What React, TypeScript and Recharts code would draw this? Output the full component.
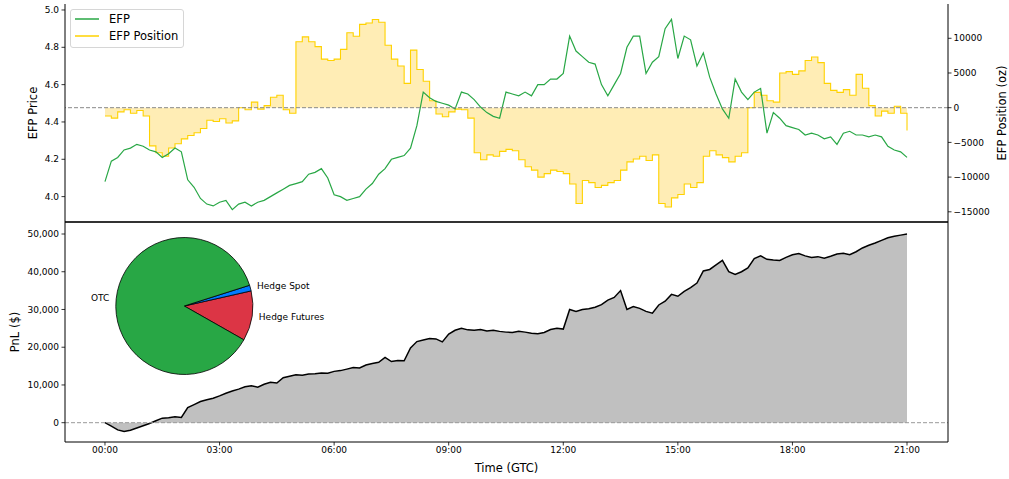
import React from "react"
import { ComposedChart, Line, Area, XAxis, YAxis, ReferenceLine, Legend, PieChart, Pie, Cell } from "recharts"

// time of each sample, minutes after 00:00 GTC
const minutes = [
    0, 10, 20, 30, 40, 50, 60, 70, 80, 90,
    100, 110, 120, 130, 140, 150, 160, 170, 180, 190,
    200, 210, 220, 230, 240, 250, 260, 270, 280, 290,
    300, 310, 320, 330, 340, 350, 360, 370, 380, 390,
    400, 410, 420, 430, 440, 450, 460, 470, 480, 490,
    500, 510, 520, 530, 540, 550, 560, 570, 580, 590,
    600, 610, 620, 630, 640, 650, 660, 670, 680, 690,
    700, 710, 720, 730, 740, 750, 760, 770, 780, 790,
    800, 810, 820, 830, 840, 850, 860, 870, 880, 890,
    900, 910, 920, 930, 940, 950, 960, 970, 980, 990,
    1000, 1010, 1020, 1030, 1040, 1050, 1060, 1070, 1080, 1090,
    1100, 1110, 1120, 1130, 1140, 1150, 1160, 1170, 1180, 1190,
    1200, 1210, 1220, 1230, 1240, 1250, 1260,
]

const efpPrice = [
    4.08, 4.19, 4.21, 4.25, 4.26, 4.28, 4.27, 4.25, 4.24, 4.21,
    4.23, 4.26, 4.24, 4.09, 4.05, 3.99, 3.96, 3.95, 3.97, 3.98,
    3.93, 3.96, 3.97, 3.95, 3.97, 3.98, 4.0, 4.02, 4.04, 4.06,
    4.07, 4.08, 4.12, 4.13, 4.15, 4.1, 4.01, 4.0, 3.98, 3.99,
    4.0, 4.04, 4.07, 4.12, 4.15, 4.2, 4.21, 4.22, 4.26, 4.38,
    4.56, 4.53, 4.51, 4.5, 4.49, 4.47, 4.56, 4.55, 4.52, 4.48,
    4.45, 4.43, 4.42, 4.56, 4.55, 4.54, 4.56, 4.54, 4.6, 4.6,
    4.63, 4.63, 4.66, 4.86, 4.78, 4.75, 4.72, 4.71, 4.6, 4.54,
    4.6, 4.66, 4.8, 4.86, 4.86, 4.66, 4.72, 4.75, 4.9, 4.95,
    4.74, 4.86, 4.84, 4.7, 4.77, 4.64, 4.55, 4.47, 4.42, 4.63,
    4.56, 4.52, 4.56, 4.58, 4.34, 4.45, 4.42, 4.38, 4.37, 4.36,
    4.33, 4.34, 4.33, 4.31, 4.32, 4.28, 4.34, 4.35, 4.33, 4.33,
    4.32, 4.33, 4.32, 4.27, 4.25, 4.24, 4.21,
]

const efpPosition = [
    -1200, -1500, -600, -300, -800, -400, -1200, -5500, -6500, -7000,
    -5800, -5200, -4500, -4000, -3600, -3000, -1800, -2000, -1600, -2200,
    -1900, 0, -300, 800, -200, 300, 1500, 1800, -300, -800,
    9500, 10200, 9500, 8800, 7000, 6800, 7000, 8400, 10800, 10300,
    12000, 12200, 12700, 12300, 9000, 7000, 6000, 3500, 8300, 5500,
    3800, 1000, -900, -1300, -600, -200, -300, -1500, -6500, -7500,
    -6800, -7000, -6300, -6000, -6200, -7500, -8500, -9000, -10000, -9500,
    -9000, -9200, -9500, -11000, -13800, -10500, -10800, -11500, -11200, -10800,
    -10500, -9000, -7800, -7400, -7000, -7600, -6800, -13800, -14300, -13000,
    -12500, -11000, -11500, -10800, -7000, -6200, -6800, -7200, -7800, -7000,
    -6500, 0, 2200, 1800, 1000, 800, 5000, 5200, 4800, 5300,
    6800, 7300, 6500, 3500, 2500, 2200, 2600, 1800, 4800, 2800,
    300, -1200, -500, -800, 200, -800, -3300,
]

const pnl = [
    0, -900, -1900, -2300, -2000, -1400, -800, -200, 500, 1200,
    1300, 1600, 1400, 4000, 4800, 5600, 6100, 6500, 7100, 7800,
    8400, 8900, 9500, 9800, 9400, 10200, 10700, 10500, 11900, 12300,
    12700, 12600, 12900, 13000, 13200, 13100, 13600, 13800, 14200, 14600,
    14500, 15300, 15700, 16000, 17300, 16200, 16500, 16400, 19800, 21500,
    21900, 22300, 22200, 21400, 23500, 24500, 25000, 24600, 24500, 24700,
    24300, 24500, 24200, 24000, 23900, 24200, 24000, 23700, 23600, 23900,
    24700, 25000, 24800, 30000, 29500, 30000, 30200, 30600, 31300, 32500,
    33200, 35000, 30000, 30800, 30300, 29500, 29000, 31200, 32200, 34000,
    33500, 34800, 35800, 37000, 40200, 40600, 41800, 43000, 40000, 39300,
    40000, 41000, 43500, 44200, 43300, 43100, 43000, 43800, 44500, 44800,
    44200, 43800, 44000, 43600, 44100, 44700, 44900, 44500, 45300, 46300,
    47000, 47600, 48300, 49000, 49400, 49700, 50000,
]

const hourTicks = [0, 180, 360, 540, 720, 900, 1080, 1260]
const hourLabels = ["00:00", "03:00", "06:00", "09:00", "12:00", "15:00", "18:00", "21:00"]
const priceTicks = [4.0, 4.2, 4.4, 4.6, 4.8, 5.0]
const positionTicks = [-15000, -10000, -5000, 0, 5000, 10000]
const pnlTicks = [0, 10000, 20000, 30000, 40000, 50000]

const pieNames = ["Hedge Futures", "Hedge Spot", "OTC"]
const pieValues = [5880, 680, 43440]

const GREEN = "#28a745"
const YELLOW = "#ffd200"
const FONT = "'DejaVu Sans', sans-serif"
const pieColors = ["#dc3545", "#007bff", GREEN]

const rows = minutes.map((m, i) => ({ m, efp: efpPrice[i], pos: efpPosition[i], pnl: pnl[i] }))
const pieData = pieNames.map((name, i) => ({ name, value: pieValues[i] }))

const X_DOMAIN = [-62.8, 1324.4]
const tickStyle = { fontSize: 9, fill: "#000", fontFamily: FONT }
const axisLine = { stroke: "#000", strokeWidth: 1 }
const tickLine = { stroke: "#000", strokeWidth: 0.8 }

const fmtHour = (v: number) => hourLabels[hourTicks.indexOf(v)] ?? ""
const fmtMinus = (v: number) => (v < 0 ? "\u2212" + Math.abs(v) : String(v))

function verticalTitle(text: string, x: number) {
    return (props: any) => {
        const vb = props.viewBox
        const y = vb.y + vb.height / 2
        return (
            <text x={x} y={y} transform={`rotate(-90 ${x} ${y})`} textAnchor="middle"
                dominantBaseline="central" fontSize={11.5} fontFamily={FONT} fill="#000">
                {text}
            </text>
        )
    }
}

function timeTitle(props: any) {
    const vb = props.viewBox
    return (
        <text x={vb.x + vb.width / 2} y={255.5} textAnchor="middle" dominantBaseline="central"
            fontSize={11.5} fontFamily={FONT} fill="#000">
            Time (GTC)
        </text>
    )
}

const RAD = Math.PI / 180
function pieLabel(p: any) {
    const r = p.outerRadius * 1.1
    const x = p.cx + r * Math.cos(-p.midAngle * RAD)
    const y = p.cy + r * Math.sin(-p.midAngle * RAD)
    return (
        <text x={x} y={y} textAnchor={x > p.cx ? "start" : "end"} dominantBaseline="central"
            fontSize={9} fontFamily={FONT} fill="#000">
            {p.name}
        </text>
    )
}

const legendItems = [
    { label: "EFP", color: GREEN },
    { label: "EFP Position", color: YELLOW },
]

function renderLegend() {
    return (
        <div style={{
            boxSizing: "border-box", width: 114, height: 39, border: "1px solid #d6d6d6",
            borderRadius: 3, background: "rgba(255,255,255,0.8)", padding: "1px 0 0 4px",
            fontFamily: FONT, fontSize: 11.5, color: "#000",
        }}>
            {legendItems.map(it => (
                <div key={it.label} style={{ display: "flex", alignItems: "center", height: 16.5 }}>
                    <svg width={24} height={6} style={{ marginRight: 10, flexShrink: 0, display: "block" }}>
                        <line x1={0} y1={3} x2={24} y2={3} stroke={it.color} strokeWidth={1.5} />
                    </svg>
                    <span style={{ lineHeight: "16.5px", whiteSpace: "nowrap" }}>{it.label}</span>
                </div>
            ))}
        </div>
    )
}

export default function App() {
    return (
        <div style={{ position: "absolute", left: 0, top: 0, width: 1009, height: 479, background: "#fff", fontFamily: FONT }}>
            <div style={{ position: "absolute", left: 0, top: 0 }}>
                <ComposedChart width={1009} height={224} data={rows} margin={{ top: 4, right: 0, bottom: 0, left: 0 }}>
                    <XAxis xAxisId="x" dataKey="m" type="number" domain={X_DOMAIN} allowDataOverflow
                        height={2} tick={false} tickLine={false} axisLine={{ stroke: "#333", strokeWidth: 2 }} />
                    <XAxis xAxisId="xt" orientation="top" dataKey="m" type="number" domain={X_DOMAIN} allowDataOverflow
                        height={0} tick={false} tickLine={false} axisLine={axisLine} />
                    <YAxis yAxisId="left" width={65} type="number" domain={[3.864, 5.032]} allowDataOverflow
                        ticks={priceTicks} tickFormatter={(v: number) => v.toFixed(1)} tick={tickStyle}
                        tickSize={3.5} tickMargin={2.5} tickLine={tickLine} axisLine={axisLine}
                        label={verticalTitle("EFP Price", 33)} />
                    <YAxis yAxisId="right" orientation="right" width={61} type="number" domain={[-16470, 14940]} allowDataOverflow
                        ticks={positionTicks} tickFormatter={fmtMinus} tick={tickStyle}
                        tickSize={3.5} tickMargin={2} tickLine={tickLine} axisLine={axisLine}
                        label={verticalTitle("EFP Position (oz)", 1002)} />
                    <Line xAxisId="x" yAxisId="left" dataKey="efp" type="linear" stroke={GREEN} strokeWidth={1.2}
                        dot={false} activeDot={false} isAnimationActive={false} />
                    <Area xAxisId="x" yAxisId="right" dataKey="pos" type="stepAfter" baseValue={0}
                        stroke={YELLOW} strokeWidth={1.1} fill="#ffc61a" fillOpacity={0.32}
                        dot={false} activeDot={false} isAnimationActive={false} />
                    <ReferenceLine xAxisId="x" yAxisId="right" y={0} stroke="#888" strokeDasharray="4 2" strokeWidth={1} />
                    <Legend layout="vertical" align="center" verticalAlign="middle"
                        wrapperStyle={{ left: 70, top: 9, width: 114, height: 39 }} content={renderLegend} />
                </ComposedChart>
            </div>

            <div style={{ position: "absolute", left: 0, top: 212 }}>
                <ComposedChart width={1009} height={267} data={rows} margin={{ top: 10, right: 0, bottom: 0, left: 0 }}>
                    <XAxis xAxisId="x" dataKey="m" type="number" domain={X_DOMAIN} allowDataOverflow
                        height={37} ticks={hourTicks} tickFormatter={fmtHour} tick={tickStyle}
                        tickSize={3.5} tickMargin={1} tickLine={tickLine} axisLine={axisLine}
                        label={timeTitle} />
                    <YAxis yAxisId="left" width={65} type="number" domain={[-5114, 53180]} allowDataOverflow
                        ticks={pnlTicks} tickFormatter={(v: number) => v.toLocaleString("en-US")} tick={tickStyle}
                        tickSize={3.5} tickMargin={2.5} tickLine={tickLine} axisLine={axisLine}
                        label={verticalTitle("PnL ($)", 15)} />
                    <YAxis yAxisId="r" orientation="right" width={61} type="number" domain={[-5114, 53180]}
                        tick={false} tickLine={false} axisLine={axisLine} />
                    <Area xAxisId="x" yAxisId="left" dataKey="pnl" type="linear" baseValue={0}
                        stroke="#000" strokeWidth={1.5} fill="#c0c0c0" fillOpacity={1}
                        dot={false} activeDot={false} isAnimationActive={false} />
                    <ReferenceLine xAxisId="x" yAxisId="left" y={0} stroke="#999" strokeDasharray="4 2" strokeWidth={1} />
                </ComposedChart>
            </div>

            <div style={{ position: "absolute", left: 0, top: 222 }}>
                <PieChart width={330} height={170} margin={{ top: 0, right: 0, bottom: 0, left: 0 }}>
                    <Pie data={pieData} dataKey="value" nameKey="name" cx={184.3} cy={84} outerRadius={68.5}
                        startAngle={-29.6} endAngle={330.4} label={pieLabel} labelLine={false}
                        isAnimationActive={false}>
                        {pieData.map((d, i) => (
                            <Cell key={d.name} fill={pieColors[i]} stroke="#000" strokeWidth={0.8} />
                        ))}
                    </Pie>
                </PieChart>
            </div>
        </div>
    )
}
